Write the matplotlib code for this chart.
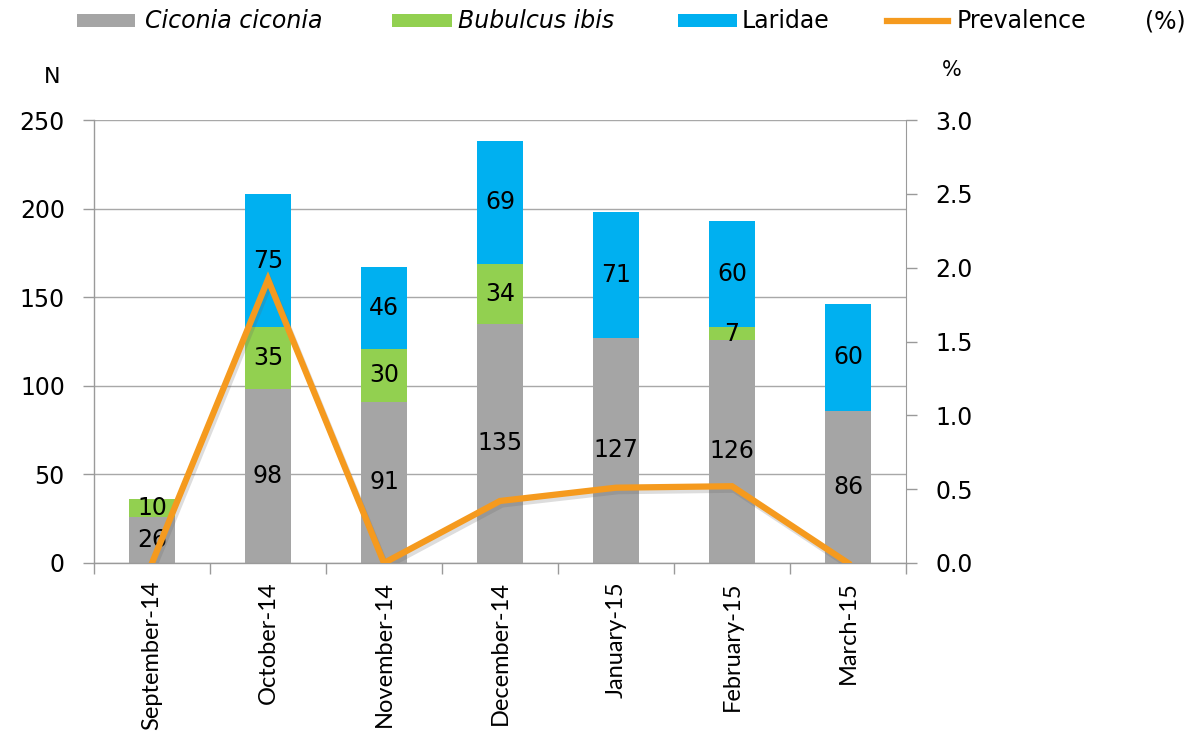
import numpy as np
import matplotlib
matplotlib.use("Agg")
import matplotlib.pyplot as plt
import matplotlib.patheffects as pe
from matplotlib.patches import Rectangle
from matplotlib.lines import Line2D

# --- Data ---
months = ["September-14", "October-14", "November-14", "December-14",
          "January-15", "February-15", "March-15"]
ciconia = [26, 98, 91, 135, 127, 126, 86]
bubulcus = [10, 35, 30, 34, 0, 7, 0]
laridae = [0, 75, 46, 69, 71, 60, 60]
prevalence = [0.0, 1.92, 0.0, 0.42, 0.51, 0.52, 0.0]

left_ticks = [0, 50, 100, 150, 200, 250]
right_ticks = [0.0, 0.5, 1.0, 1.5, 2.0, 2.5, 3.0]

# --- Styling ---
C_GRAY = "#A5A5A5"
C_GREEN = "#92D050"
C_BLUE = "#00B0F0"
C_ORANGE = "#F59A1E"
C_AXIS = "#9A9A9A"
C_GRID = "#A8A8A8"

plt.rcParams["font.family"] = "DejaVu Sans"

W, H = 1202, 740
fig = plt.figure(figsize=(W / 100, H / 100), dpi=100)
ax = fig.add_axes([94 / W, 1 - 563 / H, 812 / W, 443 / H])

x = np.arange(len(months))
w = 0.40

ciconia = np.array(ciconia)
bubulcus = np.array(bubulcus)
laridae = np.array(laridae)

ax.bar(x, ciconia, w, color=C_GRAY, zorder=2)
ax.bar(x, bubulcus, w, bottom=ciconia, color=C_GREEN, zorder=2)
ax.bar(x, laridae, w, bottom=ciconia + bubulcus, color=C_BLUE, zorder=2)

# value labels centred in each segment
for i in range(len(x)):
    segs = [(ciconia[i], 0), (bubulcus[i], ciconia[i]),
            (laridae[i], ciconia[i] + bubulcus[i])]
    for val, base in segs:
        if val > 0:
            ax.text(x[i], base + val / 2, str(val), ha="center", va="center",
                    fontsize=17, color="black", zorder=3)

ax.set_xlim(-0.5, len(months) - 0.5)
ax.set_ylim(0, 250)
ax.set_yticks(left_ticks)
ax.yaxis.grid(True, color=C_GRID, linewidth=1, zorder=0)
ax.set_axisbelow(True)

ax.set_xticks(x)
ax.set_xticklabels(months, rotation=90, fontsize=17, family=["Lato", "DejaVu Sans"])
ax.set_xticks(np.arange(-0.5, len(months)), minor=True)
ax.tick_params(axis="x", which="major", length=0, pad=13)
ax.tick_params(axis="x", which="minor", length=8, color=C_AXIS, width=1)
ax.tick_params(axis="y", length=8, color=C_AXIS, width=1, labelsize=17, pad=13)

for side in ["top", "right"]:
    ax.spines[side].set_visible(False)
for side in ["left", "bottom"]:
    ax.spines[side].set_color(C_AXIS)
    ax.spines[side].set_linewidth(1)

# prevalence on the secondary axis
ax2 = ax.twinx()
ax2.plot(x, prevalence, color=C_ORANGE, linewidth=4.5, solid_joinstyle="miter",
         path_effects=[pe.SimpleLineShadow(offset=(1.5, -2.5), shadow_color="#666666", alpha=0.22),
                       pe.Normal()])
ax2.set_ylim(0, 3.0)
ax2.set_yticks(right_ticks)
ax2.set_yticklabels([f"{t:.1f}" for t in right_ticks])
ax2.tick_params(axis="y", length=8, color=C_AXIS, width=1, labelsize=17, pad=13)
for side in ["top", "left", "bottom"]:
    ax2.spines[side].set_visible(False)
ax2.spines["right"].set_color(C_AXIS)

fig.text(52 / W, 1 - 77 / H, "N", fontsize=16, ha="center", va="center")
fig.text(952 / W, 1 - 70 / H, "%", fontsize=15, ha="center", va="center")

# legend row across the top
ly = 1 - 21 / H
swatches = [(77, 135, C_GRAY), (392, 452, C_GREEN), (678, 737, C_BLUE)]
for x0, x1, col in swatches:
    fig.add_artist(Rectangle((x0 / W, 1 - 27 / H), (x1 - x0) / W, 13 / H,
                             facecolor=col, edgecolor="none",
                             transform=fig.transFigure))
fig.add_artist(Line2D([887 / W, 948 / W], [ly, ly], color=C_ORANGE,
                      linewidth=4.5, transform=fig.transFigure))
fig.text(145 / W, ly, "Ciconia ciconia", fontsize=17, fontstyle="italic", va="center")
fig.text(458 / W, ly, "Bubulcus ibis", fontsize=17, fontstyle="italic", va="center")
fig.text(742 / W, ly, "Laridae", fontsize=17, va="center")
fig.text(957 / W, ly, "Prevalence", fontsize=17, va="center")
fig.text(1145 / W, ly, "(%)", fontsize=17, va="center")

fig.savefig("out.png", dpi=100)
